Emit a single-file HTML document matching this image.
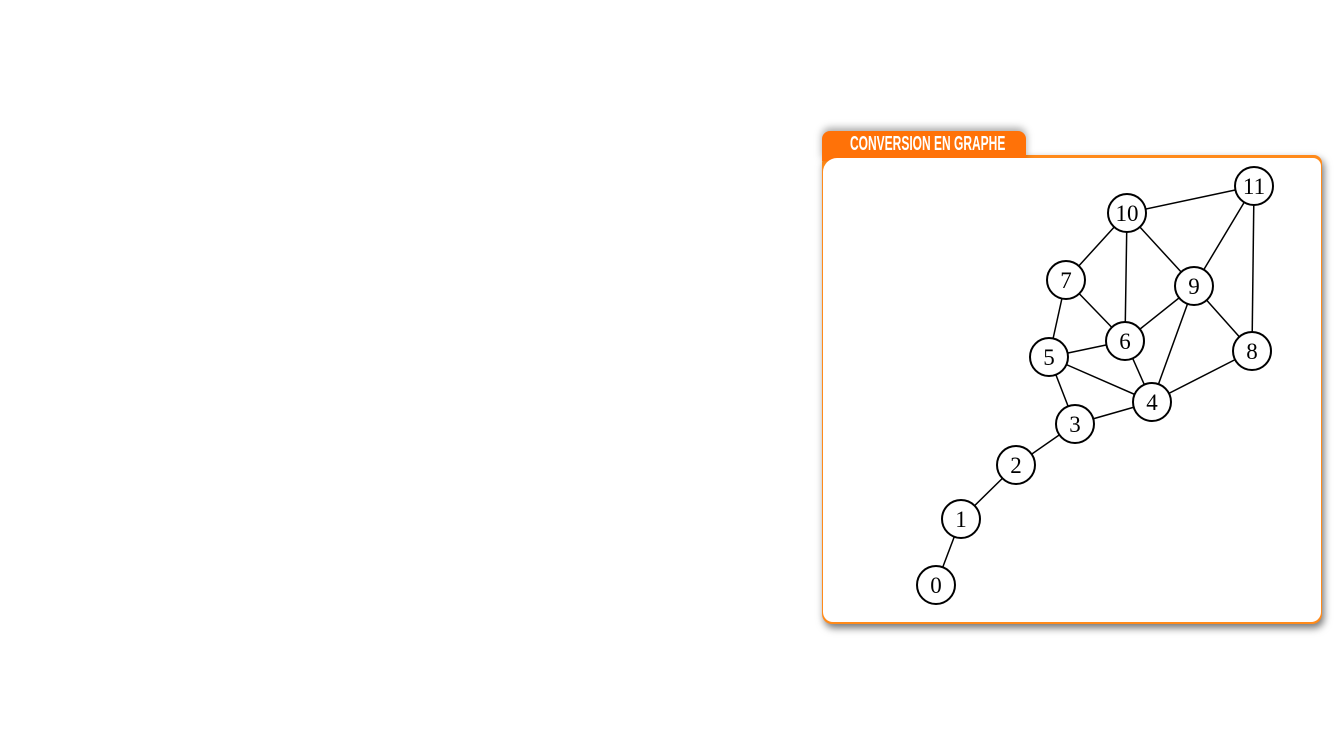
<!DOCTYPE html>
<html><head><meta charset="utf-8"><style>
body{margin:0;width:1344px;height:756px;background:#fff;position:relative;overflow:hidden;font-family:"Liberation Sans",sans-serif}
#panel{position:absolute;left:822px;top:155px;width:500px;height:469px;background:#ff8a1a;border-radius:8px 8px 10px 10px;box-shadow:2px 4px 8px rgba(0,0,0,.55)}
#tab{position:absolute;left:822px;top:131px;width:204px;height:30px;background:#ff7208;border-radius:8px 8px 0 0;box-shadow:0 -3px 8px rgba(0,0,0,.35)}
#title{position:absolute;left:850px;top:133px;color:#fff;font-size:20px;font-weight:bold;transform:scaleX(.6);transform-origin:left top;white-space:nowrap}
#inner{position:absolute;left:823px;top:158px;width:498px;height:464px;background:#fff;border-radius:14px 8px 10px 10px}
svg{position:absolute;left:0;top:0}
</style></head><body>
<div id="panel"></div>
<div id="tab"></div>
<div id="title">CONVERSION EN GRAPHE</div>
<div id="inner"></div>
<svg width="1344" height="756" id="g"></svg>
<script>
const nodeIds=[0,1,2,3,4,5,6,7,8,9,10,11];
const nodeX=[936,961,1016,1075,1152,1049,1125,1066,1252,1194,1127,1254];
const nodeY=[585,519,465,424,402,357,341,280,351,286,213,186];
const edges=[[0,1],[1,2],[2,3],[3,4],[3,5],[5,4],[5,6],[5,7],[7,6],[7,10],[10,6],[10,9],[10,11],[11,9],[11,8],[9,8],[9,6],[9,4],[6,4],[4,8]];
const svg=document.getElementById('g');const NS='http://www.w3.org/2000/svg';
edges.forEach(e=>{const l=document.createElementNS(NS,'line');


l.setAttribute('x1',nodeX[e[0]]);l.setAttribute('y1',nodeY[e[0]]);l.setAttribute('x2',nodeX[e[1]]);l.setAttribute('y2',nodeY[e[1]]);
l.setAttribute('stroke','#000');l.setAttribute('stroke-width','1.5');svg.appendChild(l);});
nodeIds.forEach((id,i)=>{const c=document.createElementNS(NS,'circle');


c.setAttribute('cx',nodeX[i]);c.setAttribute('cy',nodeY[i]);c.setAttribute('r',19);c.setAttribute('fill','#fff');c.setAttribute('stroke','#000');c.setAttribute('stroke-width','2');svg.appendChild(c);
const t=document.createElementNS(NS,'text');


t.setAttribute('x',nodeX[i]);t.setAttribute('y',nodeY[i]+8);t.setAttribute('text-anchor','middle');t.setAttribute('font-family','Liberation Serif, serif');t.setAttribute('font-size','23');t.textContent=id;svg.appendChild(t);});
</script>
</body></html>
